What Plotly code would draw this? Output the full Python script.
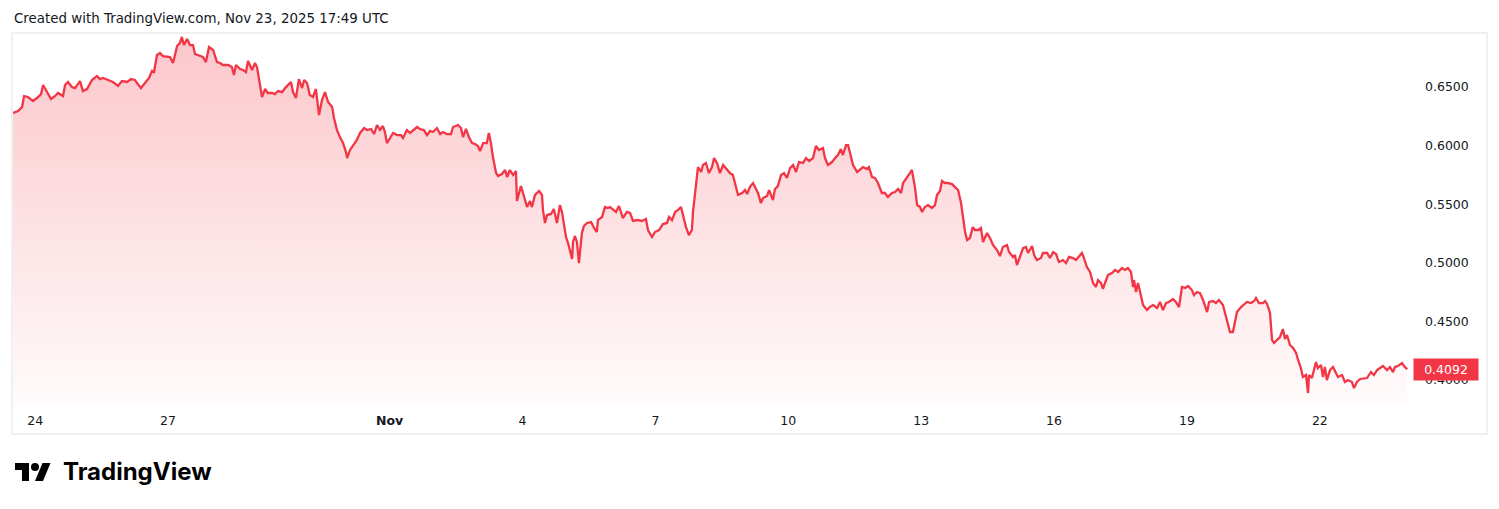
import pandas as pd
import plotly.graph_objects as go

# ---------------- data ----------------
start_time = "2025-10-23 12:00"

hours_since_start = [
    0.0, 2.7, 4.9, 6.0, 8.1, 10.8, 13.0, 15.2, 16.3, 17.4, 18.4, 20.6, 22.7, 24.4, 27.1, 28.2, 29.8, 31.9,
    33.6, 36.3, 37.9, 40.1, 42.8, 45.5, 47.1, 48.8, 51.5, 54.1, 56.9, 59.0, 61.8, 64.0, 66.0, 69.3, 71.5,
    73.7, 75.3, 76.4, 78.0, 79.6, 81.2, 83.4, 85.1, 86.7, 87.8, 88.9, 90.4, 91.5, 92.6, 94.3, 95.9, 97.5,
    98.6, 100.3, 102.9, 104.5, 106.2,
    108.4, 110.5, 112.2, 113.7, 116.5, 118.6, 119.7, 120.8, 123.0, 124.6, 126.2, 127.3, 129.5, 131.1,
    132.2, 133.8, 134.9, 136.6, 138.1, 140.3, 141.9, 143.6, 145.8, 147.4, 149.0, 150.6, 151.7, 153.3,
    154.9, 156.6, 157.7, 159.3, 160.8, 162.5, 164.1, 165.8, 167.4, 169.0, 170.7, 172.9, 173.9, 175.5,
    177.1, 178.8, 180.4, 181.0, 182.6, 184.2, 186.3, 188.0, 190.2, 191.8, 194.0, 195.6, 197.2, 198.8,
    200.4, 201.5, 202.6, 204.3, 205.9, 208.1, 210.2, 211.3, 213.4,
    215.1, 216.7, 218.9, 220.4, 222.6, 224.3, 225.9, 227.5, 229.7, 231.4, 232.9, 235.1, 237.3, 238.4,
    241.1, 242.7, 243.8, 245.4, 247.0, 248.7, 250.3, 251.9, 253.0, 254.7, 256.7, 257.8, 258.9, 260.0,
    261.7, 262.8, 264.9, 266.6, 267.7, 269.2, 270.9, 272.5, 273.0, 275.2, 276.9, 278.5, 280.1, 281.1,
    282.8, 285.0, 286.6, 287.1, 288.2, 289.3, 291.5, 293.0, 294.7, 296.3, 297.4, 298.5, 299.6, 300.7,
    301.8, 302.9, 303.4, 304.4, 305.5, 306.6, 308.2, 309.3, 311.0, 313.2, 314.8, 316.3, 316.9, 319.1,
    320.7, 322.3,
    323.4, 325.1, 326.7, 328.3, 330.4, 332.6, 334.3, 335.9, 338.1, 340.7, 342.9, 344.0, 346.2, 347.8,
    350.0, 352.1, 354.3, 355.4, 357.0, 358.7, 360.3, 361.9, 363.0, 364.6, 366.2, 367.8, 368.4, 370.0,
    371.1, 372.8, 373.8, 375.4, 377.0, 378.7, 379.8, 381.4, 383.0, 384.7, 386.8, 388.4, 390.0, 391.7,
    392.8, 395.0, 396.6, 397.7, 399.2, 400.9, 402.5, 403.6, 405.2, 406.3, 408.5, 409.6, 411.7, 412.8,
    414.4, 416.1, 417.7, 419.3, 421.0, 422.6, 424.2, 425.8, 428.0, 429.6, 431.3,
    433.4, 435.0, 436.6, 438.8, 439.9, 441.5, 443.7, 445.4, 446.9, 448.5, 449.6, 451.3, 452.4, 454.0,
    455.1, 457.3, 458.8, 460.5, 462.6, 463.7, 465.4, 467.0, 468.6, 470.7, 472.4, 474.0, 476.2, 477.8,
    479.5, 481.1, 482.2, 484.3, 485.9, 487.0, 488.7, 489.8, 491.4, 492.5, 494.0, 495.7, 497.8, 499.5,
    500.6, 502.2, 503.3, 504.9, 506.5, 508.7, 510.3, 512.0, 513.6, 514.7, 515.8, 516.9, 518.4, 520.0,
    521.1, 522.8, 524.4, 525.5, 527.7, 529.3, 530.9, 533.1, 534.7, 536.3, 538.5, 539.6,
    541.8, 542.8, 543.9, 545.5, 547.2, 548.8, 549.9, 552.1, 553.2, 554.7, 556.9, 558.0, 560.2, 561.8,
    563.5, 565.1, 566.6, 568.8, 570.5, 572.1, 574.3, 575.9, 577.5, 579.1, 580.2, 581.8, 583.5, 585.1,
    586.7, 587.8, 589.4, 590.5, 591.6, 593.2, 595.4, 597.0, 598.7, 600.8, 602.4, 604.0, 605.7, 606.8,
    607.3, 608.4, 609.5, 611.1, 612.2, 614.3, 615.9, 617.6, 619.8, 621.4, 623.0, 624.7, 626.2, 628.4,
    630.0, 631.7, 633.3, 635.0, 636.6, 638.7, 639.8, 641.4, 643.1, 644.7, 646.9, 648.0,
    650.1, 651.7, 653.3, 655.5, 656.6, 657.7, 659.3, 660.9, 662.0, 663.1, 665.3, 666.9, 668.5, 670.7,
    672.4, 673.4, 675.0, 677.2, 678.3, 679.4, 681.0, 682.1, 683.2, 684.7, 686.4, 688.0, 689.1, 690.2,
    691.8, 693.5, 695.1, 696.2, 697.7, 698.8, 700.5, 701.6, 702.1, 703.7, 704.8, 705.9, 706.9, 708.6,
    709.7, 710.7, 711.8, 713.5, 715.1, 716.7, 717.8, 720.0, 721.6, 723.2, 725.4, 726.5, 728.1, 729.8,
    731.9, 733.5, 735.7, 737.3, 739.0, 741.2, 742.2, 744.4, 746.0, 747.6, 748.7, 750.3, 752.5, 753.6,
    755.3,
]

price = [
    0.6278, 0.6295, 0.6329, 0.6423, 0.6415, 0.6381, 0.6406, 0.6440, 0.6517, 0.6483, 0.6457, 0.6398, 0.6423,
    0.6449, 0.6423, 0.6517, 0.6543, 0.6500, 0.6491, 0.6551, 0.6466, 0.6483, 0.6560, 0.6594, 0.6568, 0.6577,
    0.6560, 0.6543, 0.6509, 0.6551, 0.6543, 0.6568, 0.6560, 0.6491, 0.6534, 0.6577, 0.6637, 0.6628, 0.6773,
    0.6790, 0.6764, 0.6756, 0.6756, 0.6705, 0.6773, 0.6850, 0.6875, 0.6927, 0.6858, 0.6910, 0.6858, 0.6858,
    0.6782, 0.6773, 0.6756, 0.6713, 0.6841,
    0.6816, 0.6713, 0.6705, 0.6688, 0.6688, 0.6671, 0.6602, 0.6688, 0.6654, 0.6645, 0.6628, 0.6722, 0.6645,
    0.6705, 0.6671, 0.6517, 0.6415, 0.6483, 0.6449, 0.6449, 0.6440, 0.6466, 0.6457, 0.6491, 0.6517, 0.6543,
    0.6457, 0.6406, 0.6568, 0.6491, 0.6560, 0.6534, 0.6432, 0.6415, 0.6483, 0.6261, 0.6389, 0.6457, 0.6372,
    0.6329, 0.6236, 0.6133, 0.6073, 0.6022, 0.5945, 0.5894, 0.5963, 0.5997, 0.6048, 0.6108, 0.6150, 0.6133,
    0.6142, 0.6099, 0.6176, 0.6133, 0.6167, 0.6116, 0.6022, 0.6065, 0.6108, 0.6090, 0.6090, 0.6065, 0.6133,
    0.6108, 0.6133, 0.6159, 0.6142, 0.6133, 0.6090, 0.6125, 0.6116, 0.6150, 0.6099, 0.6116, 0.6099, 0.6099,
    0.6159, 0.6176, 0.6150, 0.6073, 0.6142, 0.6073, 0.6022, 0.6014, 0.5997, 0.5954, 0.6022, 0.6022, 0.6108,
    0.6022, 0.5903, 0.5766, 0.5741, 0.5758, 0.5792, 0.5732, 0.5792, 0.5749, 0.5783, 0.5527, 0.5655, 0.5561,
    0.5476, 0.5527, 0.5476, 0.5579, 0.5613, 0.5579, 0.5451, 0.5340, 0.5408, 0.5417, 0.5459, 0.5340, 0.5493,
    0.5434, 0.5305, 0.5220, 0.5169, 0.5109, 0.5033, 0.5178, 0.5229, 0.5178, 0.4998, 0.5254, 0.5314, 0.5340,
    0.5348, 0.5297, 0.5263, 0.5365, 0.5391, 0.5476, 0.5468,
    0.5476, 0.5451, 0.5434, 0.5485, 0.5382, 0.5434, 0.5425, 0.5357, 0.5365, 0.5357, 0.5374, 0.5280, 0.5220,
    0.5263, 0.5280, 0.5331, 0.5340, 0.5391, 0.5365, 0.5434, 0.5451, 0.5476, 0.5399, 0.5305, 0.5237, 0.5280,
    0.5434, 0.5681, 0.5817, 0.5775, 0.5835, 0.5852, 0.5766, 0.5817, 0.5894, 0.5852, 0.5766, 0.5835, 0.5792,
    0.5766, 0.5749, 0.5638, 0.5579, 0.5596, 0.5621, 0.5587, 0.5647, 0.5681, 0.5621, 0.5596, 0.5510, 0.5553,
    0.5570, 0.5621, 0.5536, 0.5630, 0.5655, 0.5749, 0.5766, 0.5724, 0.5809, 0.5835, 0.5775, 0.5860, 0.5852,
    0.5894, 0.5869,
    0.5894, 0.5997, 0.5963, 0.5980, 0.5894, 0.5835, 0.5860, 0.5894, 0.5920, 0.5971, 0.5920, 0.6005, 0.6005,
    0.5903, 0.5835, 0.5775, 0.5792, 0.5817, 0.5800, 0.5817, 0.5732, 0.5724, 0.5681, 0.5596, 0.5596, 0.5561,
    0.5596, 0.5604, 0.5630, 0.5596, 0.5681, 0.5724, 0.5766, 0.5792, 0.5638, 0.5493, 0.5476, 0.5434, 0.5476,
    0.5493, 0.5468, 0.5493, 0.5579, 0.5613, 0.5698, 0.5681, 0.5681, 0.5672, 0.5647, 0.5621, 0.5510, 0.5391,
    0.5263, 0.5195, 0.5212, 0.5305, 0.5280, 0.5280, 0.5297, 0.5178, 0.5254, 0.5212, 0.5152, 0.5109, 0.5058,
    0.5135, 0.5152, 0.5092,
    0.5050, 0.5067, 0.4981, 0.5050, 0.5126, 0.5135, 0.5084, 0.5143, 0.5067, 0.5024, 0.5041, 0.5084, 0.5084,
    0.5041, 0.5092, 0.5075, 0.5007, 0.5024, 0.4998, 0.5050, 0.5041, 0.5024, 0.5050, 0.5084, 0.5041, 0.4964,
    0.4922, 0.4828, 0.4794, 0.4853, 0.4828, 0.4777, 0.4828, 0.4896, 0.4913, 0.4939, 0.4922, 0.4956, 0.4939,
    0.4956, 0.4922, 0.4794, 0.4853, 0.4751, 0.4828, 0.4708, 0.4640, 0.4597, 0.4623, 0.4640, 0.4615, 0.4666,
    0.4597, 0.4657, 0.4666, 0.4691, 0.4666, 0.4623, 0.4794, 0.4785, 0.4802, 0.4768, 0.4725, 0.4751, 0.4742,
    0.4683, 0.4580, 0.4666,
    0.4674, 0.4657, 0.4683, 0.4640, 0.4572, 0.4486, 0.4410, 0.4410, 0.4512, 0.4580, 0.4623, 0.4649, 0.4666,
    0.4657, 0.4674, 0.4700, 0.4657, 0.4657, 0.4674, 0.4649, 0.4572, 0.4341, 0.4316, 0.4341, 0.4367, 0.4435,
    0.4350, 0.4384, 0.4299, 0.4273, 0.4231, 0.4171, 0.4102, 0.4026, 0.4043, 0.3889, 0.4043, 0.4017, 0.4085,
    0.4154, 0.4102, 0.4128, 0.4026, 0.4111, 0.4000, 0.4085, 0.4111, 0.4068, 0.4026, 0.4043, 0.3983, 0.4000,
    0.3983, 0.3932, 0.3983, 0.4009, 0.4017, 0.4017, 0.4068, 0.4043, 0.4085, 0.4111, 0.4120, 0.4085, 0.4111,
    0.4068, 0.4111, 0.4120, 0.4145, 0.4120, 0.4092,
]

last_price = 0.4092

x_tick_dates = ["2025-10-24", "2025-10-27", "2025-11-01", "2025-11-04", "2025-11-07",
                "2025-11-10", "2025-11-13", "2025-11-16", "2025-11-19", "2025-11-22"]
x_tick_labels = ["24", "27", "<b>Nov</b>", "4", "7", "10", "13", "16", "19", "22"]

y_tick_values = [0.40, 0.45, 0.50, 0.55, 0.60, 0.65]
y_tick_labels = ["0.4000", "0.4500", "0.5000", "0.5500", "0.6000", "0.6500"]

title_text = "Created with TradingView.com, Nov 23, 2025 17:49 UTC"
brand_text = "TradingView"

# ---------------- figure ----------------
times = pd.Timestamp(start_time) + pd.to_timedelta(hours_since_start, unit="h")

RED = "#F23645"
TXT = "#131722"
FONT = "DejaVu Sans"

fig = go.Figure()
fig.add_trace(go.Scatter(
    x=times, y=price, mode="lines",
    line=dict(color=RED, width=2.3),
    fill="tozeroy",
    fillgradient=dict(
        type="vertical",
        start=0.3787, stop=0.6927,
        colorscale=[[0, "rgba(242,54,69,0.02)"], [1, "rgba(242,54,69,0.28)"]],
    ),
    hoverinfo="skip", showlegend=False,
))

W, H = 1499, 509
ml, mr, mt, mb = 13, 87, 33, 104
pw, ph = W - ml - mr, H - mt - mb


def px(xp):
    return (xp - ml) / pw


def py(yp):
    return (H - mb - yp) / ph


shapes = [
    # chart frame
    dict(type="rect", xref="paper", yref="paper",
         x0=px(12), x1=px(1487), y0=py(434), y1=py(33),
         line=dict(color="#ececec", width=1.5), fillcolor="rgba(0,0,0,0)", layer="above"),
]

# TradingView logo (icon)
ox, oy = 15, 459


def pt(u, v):
    return f"{px(ox + u):.5f},{py(oy + v):.5f}"


t_path = "M" + " L".join(pt(u, v) for u, v in [(0, 4), (14, 4), (14, 22), (7, 22), (7, 11), (0, 11)]) + " Z"
s_path = "M" + " L".join(pt(u, v) for u, v in [(20, 22), (28, 22), (35.5, 4), (27.5, 4)]) + " Z"
shapes += [
    dict(type="path", xref="paper", yref="paper", path=t_path, fillcolor="#000000", line=dict(width=0)),
    dict(type="path", xref="paper", yref="paper", path=s_path, fillcolor="#000000", line=dict(width=0)),
    dict(type="circle", xref="paper", yref="paper",
         x0=px(ox + 16), x1=px(ox + 24), y0=py(oy + 12), y1=py(oy + 4),
         fillcolor="#000000", line=dict(width=0)),
]

annotations = [
    dict(text=title_text, xref="paper", yref="paper", x=px(12), y=py(18),
         xanchor="left", yanchor="middle", showarrow=False,
         font=dict(family=FONT, size=13.4, color=TXT)),
    dict(text="<b>" + brand_text + "</b>", xref="paper", yref="paper", x=px(61), y=py(471),
         xanchor="left", yanchor="middle", showarrow=False,
         font=dict(family="Inter", size=24, color="#000000")),
    dict(text=f"{last_price:.4f}", xref="paper", yref="y", x=1, y=last_price,
         xanchor="left", yanchor="middle", xshift=1, showarrow=False,
         bgcolor=RED, borderpad=2, width=60, height=17,
         font=dict(family=FONT, size=12.5, color="#ffffff")),
]

fig.update_layout(
    width=W, height=H,
    margin=dict(l=ml, r=mr, t=mt, b=mb, pad=0),
    paper_bgcolor="#ffffff", plot_bgcolor="#ffffff",
    showlegend=False, hovermode=False,
    shapes=shapes, annotations=annotations,
    xaxis=dict(
        type="date",
        range=["2025-10-23 12:00", "2025-11-24 01:55"],
        tickvals=x_tick_dates, ticktext=x_tick_labels,
        showgrid=False, zeroline=False, showline=False, ticks="",
        ticklabelstandoff=6,
        tickfont=dict(family=FONT, size=12.5, color=TXT),
    ),
    yaxis=dict(
        side="right",
        range=[0.3787, 0.6961],
        tickvals=y_tick_values, ticktext=y_tick_labels,
        showgrid=False, zeroline=False, showline=False, ticks="",
        ticklabelstandoff=12,
        tickfont=dict(family=FONT, size=12.5, color=TXT),
    ),
)

fig.write_html(
    "out.html",
    config={"displayModeBar": False, "staticPlot": True},
    post_script="document.body.style.margin='0';document.body.style.overflow='hidden';",
)
